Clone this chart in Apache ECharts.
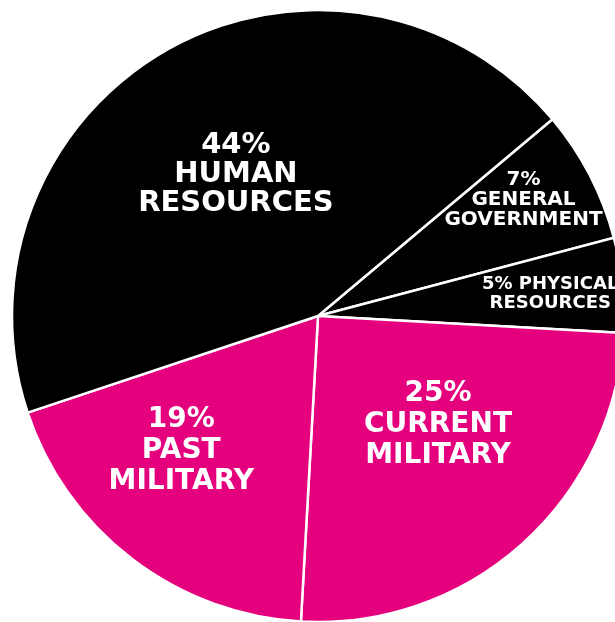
<!DOCTYPE html>
<html>
<head>
<meta charset="utf-8">
<script src="https://cdn.jsdelivr.net/npm/echarts@6/dist/echarts.min.js"></script>
<style>
html,body{margin:0;padding:0;background:#fff;}
#chart{width:615px;height:622px;}
</style>
</head>
<body>
<div id="chart"></div>
<script>
// Data (clockwise from the General Government / Human Resources boundary)
const categories = ['GENERAL GOVERNMENT', 'PHYSICAL RESOURCES', 'CURRENT MILITARY', 'PAST MILITARY', 'HUMAN RESOURCES'];
const shares = [7, 5, 25, 19, 44];
const sliceColors = ['#000000', '#000000', '#e5007d', '#e5007d', '#000000'];

// Styling (kept separate from data)
const labelFontSizes = [20, 18, 28, 28, 29];
const labelLineHeights = [20, 19, 31, 31, 29];
const labelShifts = [[67, -44], [77, -6], [16, -8], [-42, 11], [-6, -5]];

const chart = echarts.init(document.getElementById('chart'), null, {renderer: 'canvas'});

const seriesData = categories.map((name, i) => ({
  name: name,
  value: shares[i],
  itemStyle: {color: sliceColors[i]},
  label: {fontSize: labelFontSizes[i], lineHeight: labelLineHeights[i]}
}));

chart.setOption({
  backgroundColor: '#ffffff',
  animation: false,
  series: [{
    type: 'pie',
    center: [318, 316],
    radius: [0, 306],
    startAngle: 40,
    clockwise: true,
    avoidLabelOverlap: false,
    itemStyle: {borderColor: '#ffffff', borderWidth: 2.5},
    emphasis: {disabled: true},
    label: {
      show: true,
      position: 'inside',
      color: '#ffffff',
      fontFamily: 'DejaVu Sans',
      fontWeight: 'bold',
      align: 'center',
      formatter: function (p) {
        const sep = p.dataIndex === 1 ? ' ' : '\n';
        return p.value + '%' + sep + p.name.replace(' ', '\n');
      }
    },
    labelLine: {show: false},
    labelLayout: function (p) {
      const s = labelShifts[p.dataIndex];
      return {dx: s[0], dy: s[1]};
    },
    data: seriesData
  }]
});
</script>
</body>
</html>
